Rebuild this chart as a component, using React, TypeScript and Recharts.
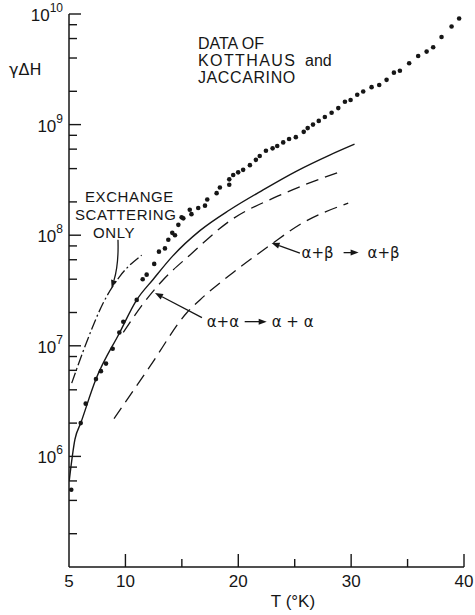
import React from 'react';
import {
  ComposedChart,
  Line,
  Scatter,
  XAxis,
  YAxis,
  ReferenceLine,
  ReferenceDot,
} from 'recharts';

// measured linewidth data (Kotthaus & Jaccarino), T in K
const kjT = [
  5.2, 6.04, 6.48, 7.39, 7.83, 8.28, 8.87, 9.46, 9.81, 11.0, 11.53, 11.88, 12.55,
  12.97, 13.5, 13.8, 14.15, 14.39, 14.69, 14.98, 15.13, 15.7, 15.85, 16.45, 17.05,
  17.25, 18.08, 18.37, 19.2, 19.2, 19.55, 19.99, 20.43, 21.03, 21.56, 21.9, 22.45,
  23.04, 23.45, 23.98, 24.5, 25.1, 25.8, 26.15, 26.62, 27.13, 27.67, 28.27, 28.86,
  29.45, 29.95, 30.54, 31.07, 31.81, 32.49, 33.14, 33.79, 34.32, 35.14, 35.94,
  36.69, 37.27, 38.01, 38.9, 39.57,
];
const kjValue = [
  5.0e5, 2.0e6, 3.0e6, 5.0e6, 5.9e6, 6.9e6, 9.4e6, 1.32e7, 1.65e7, 2.6e7, 4.0e7,
  4.4e7, 5.5e7, 7.1e7, 7.6e7, 9.1e7, 1.05e8, 1.0e8, 1.24e8, 1.45e8, 1.42e8, 1.7e8,
  1.55e8, 1.76e8, 1.85e8, 2.1e8, 2.4e8, 2.7e8, 3.2e8, 2.86e8, 3.5e8, 3.7e8, 3.9e8,
  4.3e8, 4.8e8, 5.2e8, 5.8e8, 6.1e8, 6.4e8, 6.9e8, 7.4e8, 7.7e8, 8.6e8, 9.3e8,
  1.0e9, 1.08e9, 1.17e9, 1.28e9, 1.41e9, 1.61e9, 1.67e9, 1.86e9, 1.99e9, 2.18e9,
  2.28e9, 2.54e9, 2.95e9, 3.07e9, 3.59e9, 4.17e9, 4.57e9, 5.0e9, 6.2e9, 7.7e9,
  9.1e9,
];

// full theory (solid)
const totalT = [5.02, 5.53, 6.04, 7.39, 9.46, 11.0, 12.47, 14.2, 16.6, 19.26, 22.2, 25.17, 28.1, 30.3];
const totalValue = [6e5, 1.43e6, 2.0e6, 5.0e6, 1.3e7, 2.6e7, 4.0e7, 6.5e7, 1.1e8, 1.7e8, 2.57e8, 3.8e8, 5.3e8, 6.65e8];

// alpha + alpha -> alpha + alpha (upper dashed)
const aaT = [9.81, 11.43, 13.35, 15.7, 19.26, 23.7, 28.86];
const aaValue = [1.32e7, 2.3e7, 3.96e7, 6.6e7, 1.35e8, 2.3e8, 3.7e8];

// alpha + beta -> alpha + beta (lower dashed)
const abT = [8.99, 12.17, 15.42, 16.6, 19.55, 22.95, 25.46, 29.74];
const abValue = [2.2e6, 6.5e6, 1.98e7, 2.6e7, 4.6e7, 8.3e7, 1.25e8, 1.95e8];

// exchange scattering only (dash-dot)
const exT = [5.24, 6.42, 8.04, 9.52, 11.44];
const exValue = [4.6e6, 9.9e6, 2.45e7, 4.27e7, 6.6e7];

const xTicks = [5, 10, 15, 20, 25, 30, 35, 40];
const yTicks = [
  2e5, 4e5, 6e5, 8e5, 1e6, 2e6, 4e6, 6e6, 8e6, 1e7, 2e7, 4e7, 6e7, 8e7, 1e8,
  2e8, 4e8, 6e8, 8e8, 1e9, 2e9, 4e9, 6e9, 8e9, 1e10,
];

const zip = (t: number[], v: number[]) => t.map((x, i) => ({ t: x, v: v[i] }));

const kjData = zip(kjT, kjValue);
const totalData = zip(totalT, totalValue);
const aaData = zip(aaT, aaValue);
const abData = zip(abT, abValue);
const exData = zip(exT, exValue);

const INK = '#161616';
const FONT = '"Liberation Sans", Arial, sans-serif';
const GREEK = '"DejaVu Sans", sans-serif';

function YTick(props: any) {
  const { x, y, payload } = props;
  const lg = Math.log10(payload.value);
  const exp = Math.round(lg);
  const major = Math.abs(lg - exp) < 1e-6;
  return (
    <g>
      <line x1={x} x2={x + (major ? 12 : 8)} y1={y} y2={y} stroke={INK} strokeWidth={1.4} />
      {major && (
        <text x={x - 6} y={y + 7} textAnchor="end" fontFamily={FONT} fontSize={17} fill={INK}>
          <tspan>10</tspan>
          <tspan dy={-9} fontSize={12}>{exp}</tspan>
        </text>
      )}
    </g>
  );
}

function XTick(props: any) {
  const { x, y, payload } = props;
  const v = payload.value;
  const major = v % 10 === 0;
  return (
    <g>
      {v !== 5 && (
        <line x1={x} x2={x} y1={y} y2={y - (major ? 13 : 8)} stroke={INK} strokeWidth={1.4} />
      )}
      {(major || v === 5) && (
        <text x={x} y={y + 20} textAnchor="middle" fontFamily={FONT} fontSize={17} fill={INK}>
          {v}
        </text>
      )}
    </g>
  );
}

// leader line with a filled head at (x2, y2)
function arrowShape(bend: number) {
  return (p: any) => {
    const { x1, y1, x2, y2 } = p;
    const mx = (x1 + x2) / 2;
    const my = (y1 + y2) / 2;
    const dx = x2 - x1;
    const dy = y2 - y1;
    const len = Math.hypot(dx, dy) || 1;
    const cx = mx - (dy / len) * bend;
    const cy = my + (dx / len) * bend;
    const ax = x2 - cx;
    const ay = y2 - cy;
    const al = Math.hypot(ax, ay) || 1;
    const ux = ax / al;
    const uy = ay / al;
    const h = 8;
    const w = 3;
    const bx = x2 - ux * h;
    const by = y2 - uy * h;
    return (
      <g>
        <path d={`M${x1},${y1} Q${cx},${cy} ${bx},${by}`} fill="none" stroke={INK} strokeWidth={1.3} />
        <polygon
          points={`${x2},${y2} ${bx - uy * w},${by + ux * w} ${bx + uy * w},${by - ux * w}`}
          fill={INK}
        />
      </g>
    );
  };
}

function smallArrow(x: number, y: number, len: number) {
  return (
    <g>
      <line x1={x} x2={x + len - 6} y1={y} y2={y} stroke={INK} strokeWidth={1.3} />
      <polygon points={`${x + len},${y} ${x + len - 8},${y - 3} ${x + len - 8},${y + 3}`} fill={INK} />
    </g>
  );
}

const kjLabel = (p: any) => (
  <g fontFamily={FONT} fontSize={16} fill={INK}>
    <text x={p.cx} y={p.cy}>DATA OF</text>
    <text x={p.cx} y={p.cy + 17} letterSpacing={1.4}>KOTTHAUS</text>
    <text x={p.cx + 107} y={p.cy + 17}>and</text>
    <text x={p.cx} y={p.cy + 34} letterSpacing={0.6}>JACCARINO</text>
  </g>
);

const exLabel = (p: any) => (
  <g fontFamily={FONT} fontSize={15} fill={INK} letterSpacing={0.6}>
    <text x={p.cx + 10} y={p.cy}>EXCHANGE</text>
    <text x={p.cx} y={p.cy + 18}>SCATTERING</text>
    <text x={p.cx + 18} y={p.cy + 36}>ONLY</text>
  </g>
);

const aaLabel = (p: any) => (
  <g fontFamily={GREEK} fontSize={15} fill={INK}>
    <text x={p.cx} y={p.cy}>α+α</text>
    {smallArrow(p.cx + 38, p.cy - 5, 22)}
    <text x={p.cx + 65} y={p.cy}>α + α</text>
  </g>
);

const abLabel = (p: any) => (
  <g fontFamily={GREEK} fontSize={15} fill={INK}>
    <text x={p.cx} y={p.cy}>α+β</text>
    {smallArrow(p.cx + 42, p.cy - 5, 15)}
    <text x={p.cx + 66} y={p.cy}>α+β</text>
  </g>
);

const dot = (p: any) => <circle cx={p.cx} cy={p.cy} r={2.3} fill={INK} />;

export default function App() {
  return (
    <div style={{ position: 'absolute', left: 0, top: 0, width: 475, height: 615, background: '#fff' }}>
      <ComposedChart width={475} height={615} margin={{ top: 14, right: 11, bottom: 0, left: 0 }}>
        <XAxis
          dataKey="t"
          type="number"
          domain={[5, 40]}
          ticks={xTicks}
          interval={0}
          allowDataOverflow
          stroke={INK}
          strokeWidth={1.5}
          tickSize={0}
          tickMargin={0}
          tickLine={false}
          tick={<XTick />}
          height={48}
          label={{
            content: (p: any) => (
              <text
                x={p.viewBox.x + 224}
                y={p.viewBox.y + 40}
                textAnchor="middle"
                fontFamily={FONT}
                fontSize={17}
                fill={INK}
              >
                T (°K)
              </text>
            ),
          }}
        />
        <YAxis
          type="number"
          scale="log"
          domain={[1e5, 1e10]}
          ticks={yTicks}
          interval={0}
          allowDataOverflow
          stroke={INK}
          strokeWidth={1.5}
          tickSize={0}
          tickMargin={0}
          tickLine={false}
          tick={<YTick />}
          width={69}
          label={{
            content: (p: any) => (
              <text x={p.viewBox.x + 9} y={p.viewBox.y + 61} fontFamily={GREEK} fontSize={16} fill={INK}>
                γΔH
              </text>
            ),
          }}
        />

        <Line data={exData} dataKey="v" type="monotone" stroke={INK} strokeWidth={1.3}
          strokeDasharray="11 3 2 3" dot={false} isAnimationActive={false} />
        <Line data={abData} dataKey="v" type="monotone" stroke={INK} strokeWidth={1.3}
          strokeDasharray="13 7" dot={false} isAnimationActive={false} />
        <Line data={aaData} dataKey="v" type="monotone" stroke={INK} strokeWidth={1.3}
          strokeDasharray="13 7" dot={false} isAnimationActive={false} />
        <Line data={totalData} dataKey="v" type="monotone" stroke={INK} strokeWidth={1.4}
          dot={false} isAnimationActive={false} />
        <Scatter data={kjData} dataKey="v" shape={dot} isAnimationActive={false} />

        <ReferenceLine segment={[{ x: 9.34, y: 9.1e7 }, { x: 8.78, y: 3.33e7 }]} shape={arrowShape(-4)} ifOverflow="visible" />
        <ReferenceLine segment={[{ x: 16.78, y: 1.8e7 }, { x: 12.62, y: 3.0e7 }]} shape={arrowShape(0)} ifOverflow="visible" />
        <ReferenceLine segment={[{ x: 25.46, y: 6.9e7 }, { x: 22.95, y: 8.5e7 }]} shape={arrowShape(0)} ifOverflow="visible" />

        <ReferenceDot x={16.43} y={4.83e9} r={0} shape={kjLabel} ifOverflow="visible" />
        <ReferenceDot x={5.53} y={2.0e8} r={0} shape={exLabel} ifOverflow="visible" />
        <ReferenceDot x={17.2} y={1.49e7} r={0} shape={aaLabel} ifOverflow="visible" />
        <ReferenceDot x={25.61} y={6.27e7} r={0} shape={abLabel} ifOverflow="visible" />
      </ComposedChart>
    </div>
  );
}
